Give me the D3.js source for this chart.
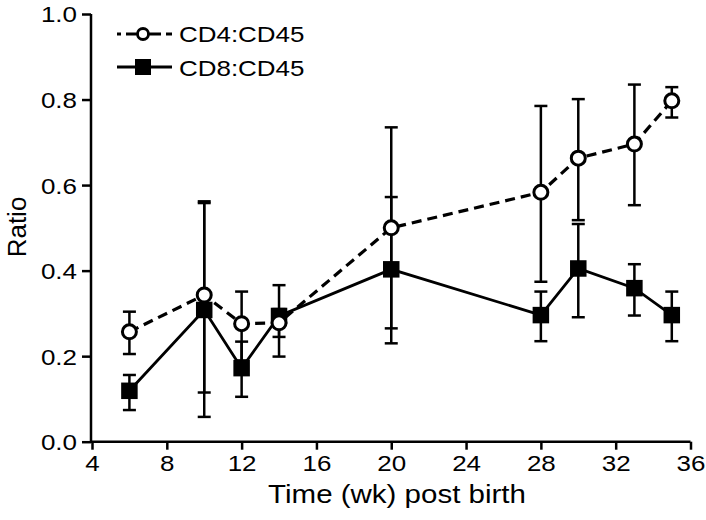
<!DOCTYPE html>
<html>
<head>
<meta charset="utf-8">
<script src="https://cdn.jsdelivr.net/npm/d3@7"></script>
<style>
  html, body { margin: 0; padding: 0; background: #fff; }
  text { font-family: "Liberation Sans", Arial, sans-serif; fill: #000; }
</style>
</head>
<body>
<div id="chart"></div>
<script>
// ---- data ----
const weeks   = [6, 10, 12, 14, 20, 28, 30, 33, 35];
const cd4     = [0.257, 0.343, 0.276, 0.278, 0.500, 0.583, 0.663, 0.696, 0.797];
const cd4Low  = [0.205, 0.115, 0.190, 0.199, 0.265, 0.374, 0.518, 0.553, 0.758];
const cd4High = [0.304, 0.562, 0.351, 0.366, 0.735, 0.785, 0.801, 0.835, 0.829];
const cd8     = [0.119, 0.308, 0.172, 0.294, 0.403, 0.296, 0.405, 0.359, 0.296];
const cd8Low  = [0.074, 0.058, 0.105, 0.245, 0.230, 0.235, 0.291, 0.295, 0.235];
const cd8High = [0.156, 0.558, 0.234, 0.310, 0.572, 0.351, 0.509, 0.415, 0.351];
const xTicks  = [4, 8, 12, 16, 20, 24, 28, 32, 36];
const yTicks  = [0.0, 0.2, 0.4, 0.6, 0.8, 1.0];
const seriesNames = ["CD4:CD45", "CD8:CD45"];
const xTitle = "Time (wk) post birth";
const yTitle = "Ratio";

// ---- layout ----
const W = 706, H = 520;
const SX = 1.18; // horizontal stretch of glyphs in reference
const x = d3.scaleLinear().domain([4, 36]).range([92, 690.5]);
const y = d3.scaleLinear().domain([0, 1]).range([441.7, 14]);

const svg = d3.select("#chart").append("svg")
  .attr("width", W).attr("height", H);

function stretchedText(g, tx, ty, str, size, anchor) {
  return g.append("text")
    .attr("transform", `translate(${tx},${ty}) scale(${SX},1)`)
    .attr("text-anchor", anchor)
    .style("font-size", size + "px")
    .text(str);
}

// ---- axes ----
const xAxis = svg.append("g").attr("transform", `translate(0,${y(0)})`)
  .call(d3.axisBottom(x).tickValues(xTicks).tickSize(8).tickPadding(3).tickFormat(d3.format("d")));
const yAxis = svg.append("g").attr("transform", `translate(${x(4) - 1},0)`)
  .call(d3.axisLeft(y).tickValues(yTicks).tickSize(9).tickPadding(5).tickFormat(d3.format(".1f")));

xAxis.select(".domain").attr("d", `M${x(4) - 2},0H${x(36)}`);
yAxis.select(".domain").attr("d", `M0,${y(1)}V${y(0)}`);
[xAxis, yAxis].forEach(g => {
  g.select(".domain").attr("stroke", "#000").attr("stroke-width", 2.5);
  g.selectAll(".tick line").attr("stroke", "#000").attr("stroke-width", 2.5);
  g.selectAll(".tick text").style("font-size", "22px")
    .style("font-family", '"Liberation Sans", Arial, sans-serif').attr("fill", "#000");
});
xAxis.selectAll(".tick text").attr("transform", `scale(${SX},1)`)
  .attr("x", 0).attr("dy", "0.85em");
yAxis.selectAll(".tick text").attr("transform", `scale(${SX},1)`)
  .attr("x", -14 / SX).attr("dy", "0.36em");

// axis titles
stretchedText(svg, 397, 503, xTitle, 25, "middle");
svg.append("text")
  .attr("transform", "translate(26,227) rotate(-90)")
  .attr("text-anchor", "middle")
  .style("font-size", "26px")
  .text(yTitle);

// ---- error bars ----
const capHalf = 6.5;
function errorBars(lo, hi) {
  const g = svg.append("g").attr("stroke", "#000").attr("stroke-width", 2.5).attr("fill", "none");
  weeks.forEach((w, i) => {
    const cx = x(w);
    g.append("line").attr("x1", cx).attr("x2", cx).attr("y1", y(lo[i])).attr("y2", y(hi[i]));
    g.append("line").attr("x1", cx - capHalf).attr("x2", cx + capHalf).attr("y1", y(lo[i])).attr("y2", y(lo[i]));
    g.append("line").attr("x1", cx - capHalf).attr("x2", cx + capHalf).attr("y1", y(hi[i])).attr("y2", y(hi[i]));
  });
}
errorBars(cd8Low, cd8High);
errorBars(cd4Low, cd4High);

// ---- lines ----
const line = d3.line().x(d => x(d[0])).y(d => y(d[1]));
svg.append("path").datum(weeks.map((w, i) => [w, cd8[i]]))
  .attr("d", line).attr("fill", "none").attr("stroke", "#000").attr("stroke-width", 2.8);
svg.append("path").datum(weeks.map((w, i) => [w, cd4[i]]))
  .attr("d", line).attr("fill", "none").attr("stroke", "#000").attr("stroke-width", 3.2)
  .attr("stroke-dasharray", "10,6");

// ---- markers ----
const sq = 16.5;
svg.append("g").selectAll("rect").data(weeks.map((w, i) => [w, cd8[i]])).join("rect")
  .attr("x", d => x(d[0]) - sq / 2).attr("y", d => y(d[1]) - sq / 2)
  .attr("width", sq).attr("height", sq).attr("fill", "#000");
svg.append("g").selectAll("circle").data(weeks.map((w, i) => [w, cd4[i]])).join("circle")
  .attr("cx", d => x(d[0])).attr("cy", d => y(d[1])).attr("r", 7)
  .attr("fill", "#fff").attr("stroke", "#000").attr("stroke-width", 3);

// ---- legend ----
const leg = svg.append("g");
const lx1 = 117, lx2 = 172, lxc = 143;
// CD4
leg.append("line").attr("x1", lx1).attr("x2", lx2).attr("y1", 34).attr("y2", 34)
  .attr("stroke", "#000").attr("stroke-width", 3).attr("stroke-dasharray", "4,5,35,5,6");
leg.append("circle").attr("cx", lxc).attr("cy", 34).attr("r", 5.5)
  .attr("fill", "#fff").attr("stroke", "#000").attr("stroke-width", 2.8);
stretchedText(leg, 179, 42, seriesNames[0], 22, "start");
// CD8
leg.append("line").attr("x1", lx1).attr("x2", lx2).attr("y1", 67).attr("y2", 67)
  .attr("stroke", "#000").attr("stroke-width", 3);
leg.append("rect").attr("x", lxc - 8).attr("y", 67 - 8).attr("width", 16).attr("height", 16).attr("fill", "#000");
stretchedText(leg, 179, 76, seriesNames[1], 22, "start");
</script>
</body>
</html>
